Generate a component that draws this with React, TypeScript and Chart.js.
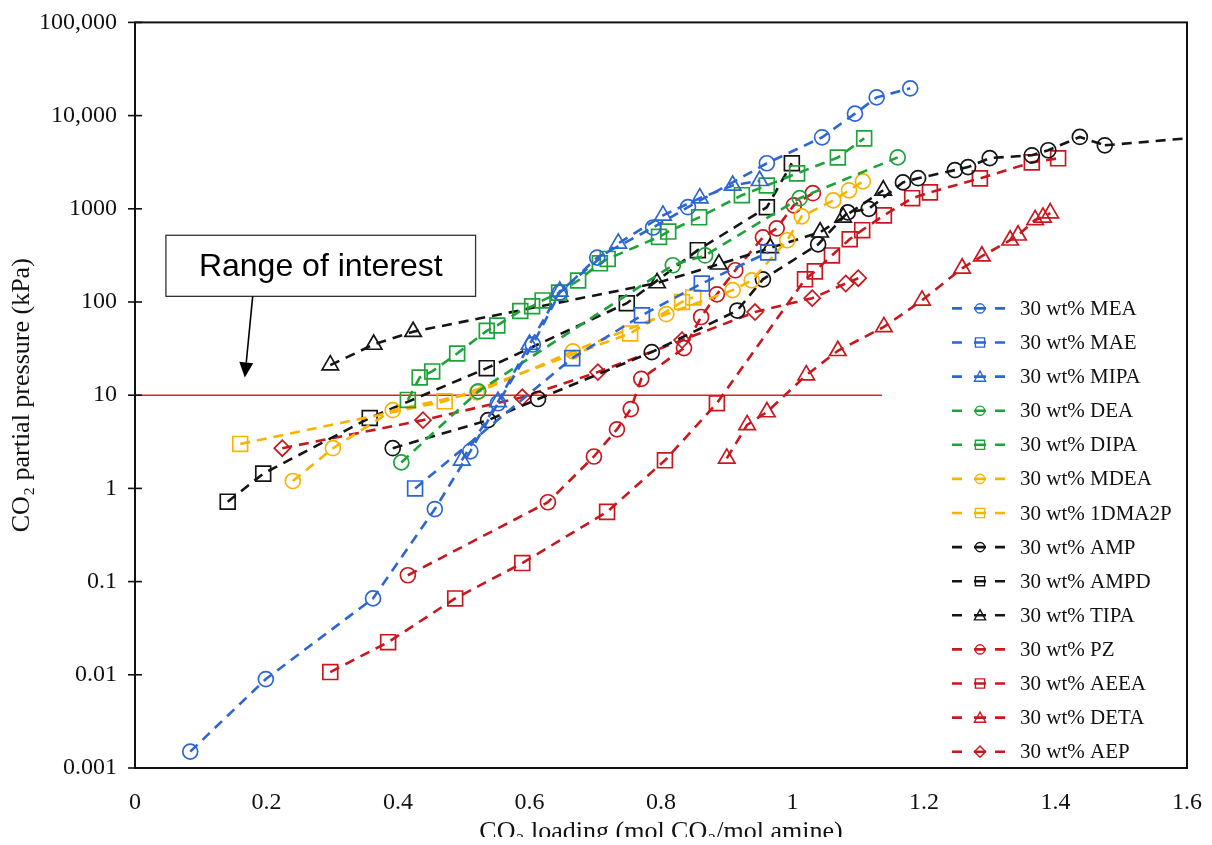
import React, { useEffect, useRef } from 'react';
import { Chart, registerables } from 'chart.js';

Chart.register(...registerables);

// ---------- data ----------
const meaX = [0.084, 0.199, 0.362, 0.456, 0.51, 0.552, 0.605, 0.646, 0.703, 0.788, 0.841, 0.961, 1.045, 1.095, 1.128, 1.179];
const meaY = [0.0015, 0.009, 0.066, 0.6, 2.5, 8.2, 35, 126, 300, 630, 1040, 3080, 5850, 10500, 15700, 19600];

const maeX = [0.426, 0.665, 0.771, 0.862, 0.963];
const maeY = [1.0, 25, 72, 158, 340];

const mipaX = [0.497, 0.552, 0.6, 0.646, 0.735, 0.803, 0.859, 0.909, 0.95];
const mipaY = [2.0, 8.5, 35, 130, 425, 850, 1300, 1780, 2000];

const deaX = [0.405, 0.522, 0.818, 0.867, 1.011, 1.16];
const deaY = [1.9, 11, 248, 316, 1300, 3560];

const dipaX = [0.415, 0.433, 0.452, 0.49, 0.535, 0.551, 0.586, 0.604, 0.62, 0.645, 0.674, 0.707, 0.719, 0.797, 0.811, 0.858, 0.923, 0.961, 1.007, 1.069, 1.109];
const dipaY = [8.9, 15.5, 18, 28, 49, 56, 80, 90, 104, 126, 170, 260, 290, 500, 570, 810, 1400, 1780, 2400, 3550, 5700];

const mdeaX = [0.24, 0.301, 0.392, 0.52, 0.666, 0.808, 0.909, 0.938, 0.992, 1.014, 1.062, 1.086, 1.107];
const mdeaY = [1.2, 2.7, 6.9, 10.7, 29.5, 74, 134, 171, 460, 830, 1230, 1580, 1970];

const dma2pX = [0.16, 0.471, 0.753, 0.832, 0.849];
const dma2pY = [3.0, 8.6, 46, 100, 112];

const ampX = [0.392, 0.537, 0.613, 0.786, 0.916, 0.955, 1.039, 1.084, 1.116, 1.168, 1.191, 1.247, 1.267, 1.3, 1.364, 1.389, 1.437, 1.475];
const ampY = [2.7, 5.4, 9.1, 29, 81, 175, 415, 915, 1000, 1920, 2130, 2600, 2800, 3500, 3750, 4250, 5900, 4800];
const ampTailX = [1.475, 1.6];
const ampTailY = [4800, 5700];

const ampdX = [0.141, 0.195, 0.357, 0.535, 0.748, 0.856, 0.961, 0.999];
const ampdY = [0.72, 1.44, 5.7, 19.5, 97, 360, 1040, 3080];

const tipaX = [0.297, 0.363, 0.423, 0.794, 0.888, 0.966, 1.042, 1.077, 1.138];
const tipaY = [21, 35, 48, 160, 254, 380, 560, 810, 1580];

const pzX = [0.415, 0.628, 0.698, 0.733, 0.754, 0.77, 0.835, 0.861, 0.885, 0.913, 0.955, 0.976, 1.002, 1.031];
const pzY = [0.117, 0.71, 2.2, 4.3, 7.1, 15, 32, 69, 121, 219, 494, 617, 1090, 1470];

const aeeaX = [0.297, 0.385, 0.487, 0.589, 0.718, 0.806, 0.885, 1.019, 1.034, 1.06, 1.087, 1.106, 1.139, 1.182, 1.209, 1.285, 1.364, 1.404];
const aeeaY = [0.0107, 0.0224, 0.066, 0.158, 0.56, 2.0, 8.2, 175, 213, 316, 471, 590, 850, 1300, 1500, 2120, 3150, 3480];

const detaX = [0.9, 0.931, 0.961, 1.021, 1.069, 1.139, 1.197, 1.258, 1.288, 1.331, 1.343, 1.369, 1.381, 1.392];
const detaY = [2.1, 4.8, 6.6, 16.4, 30, 54, 104, 230, 310, 460, 520, 760, 810, 900];

const aepX = [0.224, 0.438, 0.589, 0.704, 0.832, 0.943, 1.03, 1.081, 1.1];
const aepY = [2.7, 5.4, 9.5, 17.7, 39, 78, 110, 158, 180];

const refLineX = [0, 1.136];
const refLineY = [10, 10];

const boxX = [0.047, 0.518];
const boxY = [115, 520];
const arrowX = [0.179, 0.167];
const arrowY = [115, 15.5];
const boxText = 'Range of interest';

const xTicks = [0, 0.2, 0.4, 0.6, 0.8, 1, 1.2, 1.4, 1.6];
const xTickLabels = ['0', '0.2', '0.4', '0.6', '0.8', '1', '1.2', '1.4', '1.6'];
const yTicks = [0.001, 0.01, 0.1, 1, 10, 100, 1000, 10000, 100000];
const yTickLabels = ['0.001', '0.01', '0.1', '1', '10', '100', '1000', '10,000', '100,000'];

const xTitle = 'CO\u2082 loading (mol CO\u2082/mol amine)';
const yTitle = 'CO\u2082 partial pressure (kPa)';

// ---------- styles ----------
const BLUE = '#2d66d2';
const GREEN = '#1ea23a';
const ORANGE = '#f8b400';
const BLACK = '#151515';
const RED = '#c9171e';
const SERIF = '"Liberation Serif", "Times New Roman", serif';
const SANS = '"Liberation Sans", Arial, sans-serif';

type Shape = 'circle' | 'rect' | 'triangle' | 'rectRot';
const radiusFor: Record<Shape, number> = { circle: 7.5, rect: 10.5, triangle: 9.5, rectRot: 8 };

function zip(xs: number[], ys: number[]) {
  return xs.map((x, i) => ({ x, y: ys[i] }));
}

function series(label: string, xs: number[], ys: number[], color: string, shape: Shape) {
  return {
    label,
    data: zip(xs, ys),
    showLine: true,
    borderColor: color,
    backgroundColor: color,
    borderWidth: 2.6,
    borderDash: [10, 7],
    pointStyle: shape,
    pointRadius: radiusFor[shape],
    pointBorderColor: color,
    pointBackgroundColor: 'rgba(0,0,0,0)',
    pointBorderWidth: 1.7,
    shape,
    inLegend: true,
  } as any;
}

const framePlugin = {
  id: 'frameAndAnnotations',
  afterDraw(chart: any) {
    const { ctx, chartArea, scales } = chart;
    const xs = scales.x;
    const ys = scales.y;
    ctx.save();
    // frame
    ctx.strokeStyle = '#111';
    ctx.lineWidth = 2;
    ctx.setLineDash([]);
    ctx.strokeRect(chartArea.left, chartArea.top, chartArea.right - chartArea.left, chartArea.bottom - chartArea.top);
    // y ticks crossing the axis
    ctx.lineWidth = 1.6;
    yTicks.forEach((v) => {
      const py = ys.getPixelForValue(v);
      ctx.beginPath();
      ctx.moveTo(chartArea.left - 7, py);
      ctx.lineTo(chartArea.left + 7, py);
      ctx.stroke();
    });

    // annotation box
    const bx0 = xs.getPixelForValue(boxX[0]);
    const bx1 = xs.getPixelForValue(boxX[1]);
    const by0 = ys.getPixelForValue(boxY[1]);
    const by1 = ys.getPixelForValue(boxY[0]);
    ctx.fillStyle = '#fff';
    ctx.fillRect(bx0, by0, bx1 - bx0, by1 - by0);
    ctx.strokeStyle = '#333';
    ctx.lineWidth = 1.3;
    ctx.strokeRect(bx0, by0, bx1 - bx0, by1 - by0);
    ctx.fillStyle = '#000';
    ctx.font = `32px ${SANS}`;
    ctx.textAlign = 'center';
    ctx.textBaseline = 'middle';
    ctx.fillText(boxText, (bx0 + bx1) / 2, (by0 + by1) / 2 + 1);

    // arrow
    const ax0 = xs.getPixelForValue(arrowX[0]);
    const ay0 = ys.getPixelForValue(arrowY[0]);
    const ax1 = xs.getPixelForValue(arrowX[1]);
    const ay1 = ys.getPixelForValue(arrowY[1]);
    const ang = Math.atan2(ay1 - ay0, ax1 - ax0);
    const headLen = 15;
    const headW = 7;
    const hx = ax1 - Math.cos(ang) * headLen;
    const hy = ay1 - Math.sin(ang) * headLen;
    ctx.strokeStyle = '#000';
    ctx.lineWidth = 1.6;
    ctx.beginPath();
    ctx.moveTo(ax0, ay0);
    ctx.lineTo(hx, hy);
    ctx.stroke();
    ctx.beginPath();
    ctx.moveTo(ax1, ay1);
    ctx.lineTo(hx + Math.sin(ang) * headW, hy - Math.cos(ang) * headW);
    ctx.lineTo(hx - Math.sin(ang) * headW, hy + Math.cos(ang) * headW);
    ctx.closePath();
    ctx.fill();

    // legend
    const items = chart.data.datasets.filter((d: any) => d.inLegend);
    const startY = chartArea.top + 286;
    const stepY = 34.1;
    const lx = chartArea.right - 235;
    items.forEach((d: any, i: number) => {
      const cy = startY + i * stepY;
      ctx.strokeStyle = d.borderColor;
      ctx.lineWidth = 2.6;
      ctx.setLineDash([]);
      ctx.beginPath();
      ctx.moveTo(lx, cy);
      ctx.lineTo(lx + 10, cy);
      ctx.moveTo(lx + 22, cy);
      ctx.lineTo(lx + 34, cy);
      ctx.moveTo(lx + 43, cy);
      ctx.lineTo(lx + 53, cy);
      ctx.stroke();
      const mx = lx + 28;
      ctx.lineWidth = 1.4;
      ctx.beginPath();
      const r = 4.6;
      if (d.shape === 'circle') {
        ctx.arc(mx, cy, r, 0, Math.PI * 2);
      } else if (d.shape === 'rect') {
        ctx.rect(mx - r, cy - r, 2 * r, 2 * r);
      } else if (d.shape === 'triangle') {
        ctx.moveTo(mx, cy - r - 1);
        ctx.lineTo(mx + r + 1, cy + r);
        ctx.lineTo(mx - r - 1, cy + r);
        ctx.closePath();
      } else {
        ctx.moveTo(mx, cy - r - 1);
        ctx.lineTo(mx + r + 1, cy);
        ctx.lineTo(mx, cy + r + 1);
        ctx.lineTo(mx - r - 1, cy);
        ctx.closePath();
      }
      ctx.stroke();
      ctx.fillStyle = '#111';
      ctx.font = `21px ${SERIF}`;
      ctx.textAlign = 'left';
      ctx.textBaseline = 'middle';
      ctx.fillText(d.label, lx + 68, cy + 1);
    });
    ctx.restore();
  },
};

export default function App() {
  const canvasRef = useRef<HTMLCanvasElement | null>(null);

  useEffect(() => {
    if (!canvasRef.current) return;
    const datasets: any[] = [
      series('30 wt% MEA', meaX, meaY, BLUE, 'circle'),
      series('30 wt% MAE', maeX, maeY, BLUE, 'rect'),
      series('30 wt% MIPA', mipaX, mipaY, BLUE, 'triangle'),
      series('30 wt% DEA', deaX, deaY, GREEN, 'circle'),
      series('30 wt% DIPA', dipaX, dipaY, GREEN, 'rect'),
      series('30 wt% MDEA', mdeaX, mdeaY, ORANGE, 'circle'),
      series('30 wt% 1DMA2P', dma2pX, dma2pY, ORANGE, 'rect'),
      series('30 wt% AMP', ampX, ampY, BLACK, 'circle'),
      series('30 wt% AMPD', ampdX, ampdY, BLACK, 'rect'),
      series('30 wt% TIPA', tipaX, tipaY, BLACK, 'triangle'),
      series('30 wt% PZ', pzX, pzY, RED, 'circle'),
      series('30 wt% AEEA', aeeaX, aeeaY, RED, 'rect'),
      series('30 wt% DETA', detaX, detaY, RED, 'triangle'),
      series('30 wt% AEP', aepX, aepY, RED, 'rectRot'),
      {
        label: 'AMP trend',
        data: zip(ampTailX, ampTailY),
        showLine: true,
        borderColor: BLACK,
        borderWidth: 2.6,
        borderDash: [10, 7],
        pointRadius: 0,
      },
      {
        label: 'Range line',
        data: zip(refLineX, refLineY),
        showLine: true,
        borderColor: '#e3231b',
        borderWidth: 1.6,
        pointRadius: 0,
      },
    ];

    const chart = new Chart(canvasRef.current, {
      type: 'scatter',
      data: { datasets },
      options: {
        animation: false,
        responsive: true,
        maintainAspectRatio: false,
        layout: { padding: { top: 14, right: 17, left: 0, bottom: 0 } },
        plugins: {
          legend: { display: false },
          tooltip: { enabled: false },
        },
        scales: {
          x: {
            type: 'linear',
            min: 0,
            max: 1.6,
            afterBuildTicks: (s: any) => {
              s.ticks = xTicks.map((v) => ({ value: v }));
            },
            afterFit: (s: any) => {
              s.height = 69;
            },
            grid: { display: false, drawTicks: true, tickLength: 20 },
            border: { display: false },
            ticks: {
              color: '#111',
              padding: 0,
              maxRotation: 0,
              autoSkip: false,
              font: { family: SERIF, size: 24 },
              callback: (_v: any, i: number) => xTickLabels[i],
            },
            title: {
              display: true,
              text: xTitle,
              color: '#111',
              font: { family: SERIF, size: 26, lineHeight: 1 },
              padding: { top: 0, bottom: -8 },
            },
          },
          y: {
            type: 'logarithmic',
            min: 0.001,
            max: 100000,
            afterBuildTicks: (s: any) => {
              s.ticks = yTicks.map((v) => ({ value: v }));
            },
            afterFit: (s: any) => {
              s.width = 127;
            },
            grid: { display: false, drawTicks: true, tickLength: 18 },
            border: { display: false },
            ticks: {
              color: '#111',
              padding: 0,
              autoSkip: false,
              font: { family: SERIF, size: 24 },
              callback: (_v: any, i: number) => yTickLabels[i],
            },
            title: {
              display: true,
              text: yTitle,
              color: '#111',
              font: { family: SERIF, size: 26, lineHeight: 1 },
              padding: { top: 1, bottom: 0 },
            },
          },
        },
      } as any,
      plugins: [framePlugin],
    });
    return () => chart.destroy();
  }, []);

  return (
    <div style={{ width: 1196, height: 829, position: 'relative', background: '#fff' }}>
      <canvas ref={canvasRef} />
    </div>
  );
}
